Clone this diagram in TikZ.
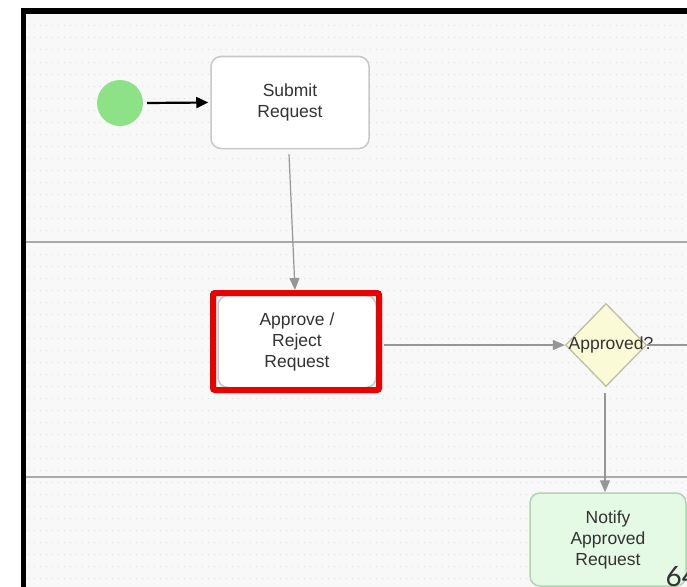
\documentclass[tikz,border=0pt]{standalone}
\usepackage{fontspec}
\setmainfont{Liberation Sans}
\newfontfamily\pagefont{Lato}
\usetikzlibrary{shapes.geometric,arrows.meta}
\definecolor{bgcol}{RGB}{248,248,248}
\definecolor{gridcol}{RGB}{222,222,222}
\definecolor{startcol}{RGB}{141,226,135}
\definecolor{boxline}{RGB}{200,200,200}
\definecolor{txtcol}{RGB}{50,50,50}
\definecolor{conncol}{RGB}{150,150,150}
\definecolor{lanecol}{RGB}{170,170,170}
\definecolor{diafill}{RGB}{250,250,215}
\definecolor{dialine}{RGB}{190,190,165}
\definecolor{notefill}{RGB}{228,250,228}
\definecolor{noteline}{RGB}{180,210,180}
\definecolor{framered}{RGB}{235,0,0}
\tikzset{
  task/.style={draw=boxline, line width=1.5pt, rounded corners=10pt, fill=white,
    minimum width=158pt, minimum height=92pt, align=center, font=\fontsize{17.5}{21}\selectfont,
    text=txtcol, inner sep=0pt},
  conn/.style={draw=conncol, line width=1.2pt, -{Triangle[width=10pt,length=12pt]}},
  lane/.style={draw=lanecol, line width=1.3pt},
}
\begin{document}
\begin{tikzpicture}[x=1pt,y=-1pt]
\useasboundingbox (0,0) rectangle (687,586);
% frame and background
\fill[black] (21,8) rectangle (700,600);
\fill[bgcol] (26,14) rectangle (700,600);
% dotted grid
\foreach \yy in {26,38,...,586} \draw[gridcol, line width=1pt, dash pattern=on 1pt off 5pt] (28,\yy) -- (687,\yy);
% lanes
\draw[lane] (26,242) -- (687,242);
\draw[lane] (26,477) -- (687,477);
% nodes
\node[circle, fill=startcol, minimum size=46pt, inner sep=0pt] (start) at (120,103) {};
\node[task] (submit) at (290,102.5) {Submit\\Request};
\node[task] (approve) at (297,341.5) {Approve /\\Reject\\Request};
\node[draw=framered, line width=6pt, rounded corners=2pt, minimum width=166pt, minimum height=97pt] (redframe) at (296,341.5) {};
\node[diamond, draw=dialine, fill=diafill, line width=1.3pt, minimum width=81pt, minimum height=83pt, inner sep=0pt] (dia) at (606,345) {};
\node[font=\fontsize{17.5}{21}\selectfont, text=txtcol] (dialabel) at (611,345) {Approved?};
\node[task, draw=noteline, fill=notefill, minimum width=156pt, minimum height=93pt] (notify) at (608,539.5) {Notify\\Approved\\Request};
\node[font=\pagefont\fontsize{28}{30}\selectfont, text=txtcol, anchor=base west] (pagenum) at (662,586) {64};
\coordinate (rightout) at (687,345);
% connectors
\draw[black, line width=2.2pt, -{Triangle[width=11pt,length=12pt]}] ([xshift=4pt]start.east) -- ([xshift=-2pt]submit.west);
\draw[conn] ([yshift=-5pt, xshift=-1pt]submit.south) -- ([xshift=-1pt]redframe.north);
\draw[conn] ([xshift=2pt]redframe.east |- dia.west) -- (dia.west);
\draw[draw=conncol, line width=1.2pt] (dia.east) -- (rightout);
\draw[conn] ([yshift=-6pt,xshift=-1pt]dia.south) -- ([xshift=-3pt]notify.north);
\end{tikzpicture}
\end{document}
